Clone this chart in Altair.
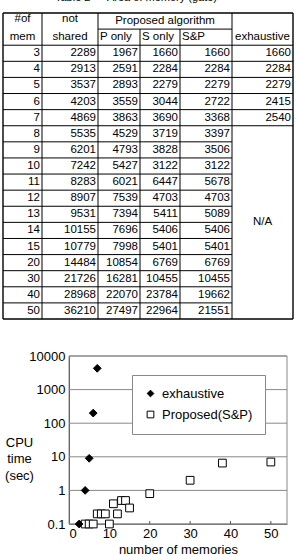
import altair as alt
import pandas as pd

# ---------------- table data ----------------
mems = [3, 4, 5, 6, 7, 8, 9, 10, 11, 12, 13, 14, 15, 20, 30, 40, 50]
not_shared = [2289, 2913, 3537, 4203, 4869, 5535, 6201, 7242, 8283, 8907, 9531,
              10155, 10779, 14484, 21726, 28968, 36210]
p_only = [1967, 2591, 2893, 3559, 3863, 4529, 4793, 5427, 6021, 7539, 7394,
          7696, 7998, 10854, 16281, 22070, 27497]
s_only = [1660, 2284, 2279, 3044, 3690, 3719, 3828, 3122, 6447, 4703, 5411,
          5406, 5401, 6769, 10455, 23784, 22964]
s_and_p = [1660, 2284, 2279, 2722, 3368, 3397, 3506, 3122, 5678, 4703, 5089,
           5406, 5401, 6769, 10455, 19662, 21551]
exhaustive_area = [1660, 2284, 2279, 2415, 2540]
caption = ["Table 2", "Area of memory (gate)"]
header_center = ["#of", "mem", "not", "shared", "Proposed algorithm", "exhaustive", "N/A"]
header_left = ["P only", "S only", "S&P"]

# ---------------- chart data ----------------
exh_x = [2.5, 4, 5, 6, 7]
exh_t = [0.1, 1, 9, 200, 4300]
prop_x = [4, 5, 6, 7, 8, 9, 10, 11, 12, 13, 14, 15, 20, 30, 38, 50]
prop_t = [0.1, 0.1, 0.1, 0.2, 0.2, 0.2, 0.1, 0.4, 0.2, 0.5, 0.5, 0.3, 0.8, 2, 6.5, 7]
series_names = ["exhaustive", "Proposed(S&P)"]
y_ticks = [0.1, 1, 10, 100, 1000, 10000]
x_ticks = [0, 10, 20, 30, 40, 50]

FONT = "Liberation Sans"

# ---------------- table layout ----------------
COL_EDGES = [3, 42, 98, 140, 180, 232, 293]
N = len(mems)
center_pos = [(22.5, -1.6), (22.5, -0.5), (70, -1.6), (70, -0.5), (165, -1.5),
              (262.5, -0.5), (262.5, 11)]
left_pos = [(100, -0.5), (142, -0.5), (182, -0.5)]
caption_pos = [(55, -2.72), (107, -2.72)]

cols = [mems, not_shared, p_only, s_only, s_and_p]
cells = []
for i in range(N):
    for c, arr in enumerate(cols):
        cells.append({"tx": COL_EDGES[c + 1] - 2, "ty": i + 0.5, "label": str(arr[i])})
for i, v in enumerate(exhaustive_area):
    cells.append({"tx": COL_EDGES[6] - 2, "ty": i + 0.5, "label": str(v)})
cells_df = pd.DataFrame(cells)

hc_df = pd.DataFrame([{"tx": p[0], "ty": p[1], "label": t} for t, p in zip(header_center, center_pos)])
hl_df = pd.DataFrame([{"tx": p[0], "ty": p[1], "label": t} for t, p in zip(header_left, left_pos)])
cap_df = pd.DataFrame([{"tx": p[0], "ty": p[1], "label": t} for t, p in zip(caption, caption_pos)])

segs = []
L, R = COL_EDGES[0], COL_EDGES[-1]
segs.append((L, R, -2, -2, 1.4))
segs.append((COL_EDGES[2], COL_EDGES[5], -1, -1, 1.0))
segs.append((L, R, 0, 0, 1.0))
for k in range(1, N):
    segs.append((L, R if k <= len(exhaustive_area) else COL_EDGES[5], k, k, 1.0))
segs.append((L, R, N, N, 1.4))
for j, xe in enumerate(COL_EDGES):
    top = -1 if j in (3, 4) else -2
    segs.append((xe, xe, top, N, 1.4 if j in (0, 6) else 1.0))
rules_df = pd.DataFrame(segs, columns=["tx", "tx2", "ty", "ty2", "w"])

tsx = alt.Scale(domain=[0, 296], range=[0, 296], nice=False, zero=False)
tsy = alt.Scale(domain=[-2, N], range=[13, 319], nice=False, zero=False)
TX = alt.X("tx:Q", scale=tsx, axis=None)
TY = alt.Y("ty:Q", scale=tsy, axis=None)

t_rules = alt.Chart(rules_df).mark_rule(color="black").encode(
    x=TX, x2="tx2:Q", y=TY, y2="ty2:Q",
    strokeWidth=alt.StrokeWidth("w:Q", scale=None, legend=None))
t_cells = alt.Chart(cells_df).mark_text(align="right", baseline="middle", font=FONT,
                                        fontSize=11.5, color="black").encode(
    x=TX, y=TY, text="label:N")
t_hc = alt.Chart(hc_df).mark_text(align="center", baseline="middle", font=FONT,
                                  fontSize=11.5, color="black").encode(
    x=TX, y=TY, text="label:N")
t_hl = alt.Chart(hl_df).mark_text(align="left", baseline="middle", font=FONT,
                                  fontSize=11.5, color="black").encode(
    x=TX, y=TY, text="label:N")
t_cap = alt.Chart(cap_df).mark_text(align="left", baseline="alphabetic", font=FONT,
                                    fontSize=11, color="black").encode(
    x=TX, y=TY, text="label:N")
table = alt.layer(t_rules, t_cells, t_hc, t_hl, t_cap)

# ---------------- scatter chart ----------------
XMAX = 54
xs = alt.Scale(domain=[0, XMAX], range=[69, 287], nice=False, zero=False)
ys = alt.Scale(type="log", domain=[0.1, 10000], range=[524, 356], nice=False)
xaxis = alt.Axis(values=x_ticks, grid=False, ticks=False, domain=True, domainColor="#555555",
                 labelFont=FONT, labelFontSize=13, labelColor="black", labelPadding=3,
                 offset=-32, title="number of memories", titleFont=FONT, titleFontSize=13,
                 titleFontWeight="normal", titleColor="black", titleY=29,
                 titleBaseline="alphabetic")
yaxis = alt.Axis(values=y_ticks, format="~g", grid=False, ticks=False, domain=True,
                 domainColor="#444444", labelFont=FONT, labelFontSize=13, labelColor="black",
                 labelPadding=4, offset=-69, title=["CPU", "time", "(sec)"], titleAngle=0,
                 titleX=-50, titleY=446, titleAlign="center", titleBaseline="alphabetic",
                 titleFont=FONT, titleFontSize=13, titleFontWeight="normal",
                 titleColor="black", titleLineHeight=16.5)
CX = alt.X("cx:Q", scale=xs, axis=xaxis)
CY = alt.Y("cy:Q", scale=ys, axis=yaxis)

frame_df = pd.DataFrame({"cx": [0], "cx2": [XMAX], "cy": [y_ticks[0]], "cy2": [y_ticks[-1]]})
grid_df = pd.DataFrame({"cx": [0] * len(y_ticks), "cx2": [XMAX] * len(y_ticks), "cy": y_ticks})
tick_df = pd.DataFrame({"cx": x_ticks[1:], "cy": [0.1] * 5, "cy2": [0.123] * 5})
pts_df = pd.DataFrame({
    "cx": prop_x + exh_x,
    "cy": prop_t + exh_t,
    "series": [series_names[1]] * len(prop_x) + [series_names[0]] * len(exh_x),
})

frame = alt.Chart(frame_df).mark_rect(fillOpacity=0, stroke="#888888", strokeWidth=1).encode(
    x=CX, x2="cx2:Q", y=CY, y2="cy2:Q")
grid = alt.Chart(grid_df).mark_rule(color="#888888", strokeWidth=1).encode(
    x=CX, x2="cx2:Q", y=CY)
ticks = alt.Chart(tick_df).mark_rule(color="#555555", strokeWidth=1).encode(
    x=CX, y=CY, y2="cy2:Q")

leg = alt.Legend(title=None, orient="none", legendX=132, legendY=375, fillColor="white",
                 strokeColor="#888888", padding=12, labelFont=FONT, labelFontSize=13,
                 labelColor="black", symbolSize=45, symbolStrokeWidth=1,
                 rowPadding=7, labelOffset=5)
points = alt.Chart(pts_df).mark_point(filled=True, size=60, strokeWidth=1,
                                      opacity=1).encode(
    x=CX, y=CY,
    fill=alt.Fill("series:N", scale=alt.Scale(domain=series_names, range=["black", "white"]),
                  legend=leg),
    stroke=alt.Stroke("series:N", scale=alt.Scale(domain=series_names, range=["black", "black"]),
                      legend=leg),
    shape=alt.Shape("series:N", scale=alt.Scale(domain=series_names, range=["diamond", "square"]),
                    legend=leg),
)
plot = alt.layer(frame, grid, ticks, points)

chart = alt.layer(table, plot).resolve_scale(x="independent", y="independent").properties(
    width=296, height=556, padding=0, background="white",
    autosize=alt.AutoSizeParams(type="none"),
).configure_view(strokeWidth=0)

chart.save("out.html", embed_options={"renderer": "svg", "actions": False})
